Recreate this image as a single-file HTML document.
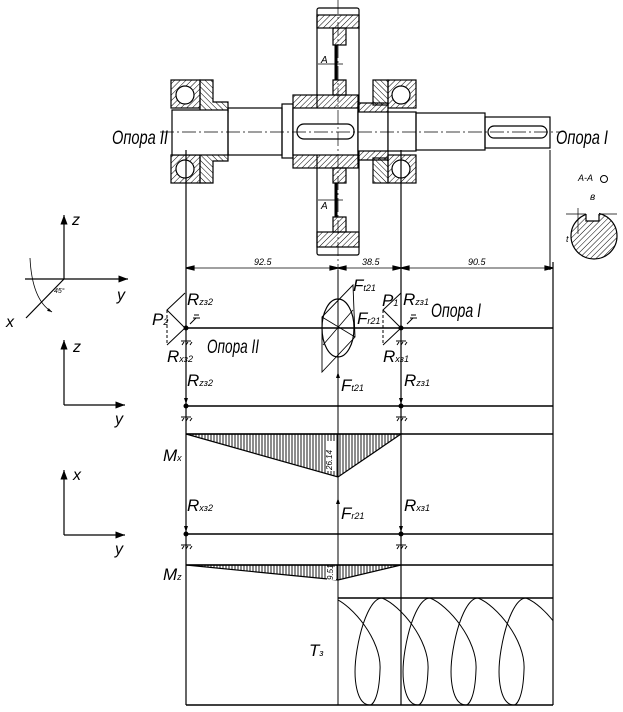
<!DOCTYPE html>
<html><head><meta charset="utf-8"><style>
html,body{margin:0;padding:0;background:#fff}
svg{display:block}
text{font-family:"Liberation Sans Narrow","Liberation Sans",sans-serif;font-style:italic;fill:#000}
</style></head><body>
<svg width="623" height="712" viewBox="0 0 623 712" xmlns="http://www.w3.org/2000/svg">
<defs>
<pattern id="h" width="4" height="4" patternUnits="userSpaceOnUse" patternTransform="rotate(45)"><line x1="0" y1="0" x2="0" y2="4" stroke="#000" stroke-width="1"/></pattern>
<pattern id="h2" width="4" height="4" patternUnits="userSpaceOnUse" patternTransform="rotate(-45)"><line x1="0" y1="0" x2="0" y2="4" stroke="#000" stroke-width="1"/></pattern>
<pattern id="v" width="3" height="3" patternUnits="userSpaceOnUse"><line x1="1" y1="0" x2="1" y2="3" stroke="#000" stroke-width="0.9"/></pattern>
<marker id="ar" markerWidth="8" markerHeight="6" refX="8" refY="3" orient="auto"><path d="M0,0 L8,3 L0,6 z" fill="#000"/></marker>
<marker id="as" markerWidth="6" markerHeight="4" refX="6" refY="2" orient="auto"><path d="M0,0 L6,2 L0,4 z" fill="#000"/></marker>
<clipPath id="tb"><rect x="338" y="598" width="215" height="107"/></clipPath>
</defs>
<g stroke="#000" fill="none" stroke-width="1.2">
<rect x="171" y="80" width="29" height="28" fill="url(#h)"/>
<rect x="171" y="155" width="29" height="28" fill="url(#h)"/>
<circle cx="185" cy="95" r="9" fill="#fff"/><circle cx="185" cy="169" r="9" fill="#fff"/>
<path d="M200,80 h13 v22 h15 v10 h-28 z" fill="url(#h2)"/>
<path d="M200,183 h13 v-22 h15 v-10 h-28 z" fill="url(#h2)"/>
<rect x="172" y="110" width="56" height="45" fill="#fff"/>
<rect x="228" y="108" width="54" height="47"/>
<rect x="282" y="104" width="11" height="54"/>
<rect x="317" y="8" width="42" height="247" rx="2"/>
<rect x="317" y="15" width="42" height="13" fill="url(#h)"/>
<rect x="317" y="232" width="42" height="15" fill="url(#h)"/>
<rect x="333" y="28" width="13" height="17" fill="url(#h)"/>
<rect x="333" y="217" width="13" height="15" fill="url(#h)"/>
<path d="M333,80 h13 v15 h-13 z" fill="url(#h)"/>
<path d="M333,168 h13 v15 h-13 z" fill="url(#h)"/>
<rect x="293" y="95" width="65" height="73" fill="url(#h)"/>
<rect x="293" y="108" width="65" height="47" fill="#fff"/>
<rect x="297" y="124" width="57" height="15" rx="7" fill="#fff"/>
<line x1="336" y1="45" x2="336" y2="80" stroke-width="3"/>
<line x1="336" y1="183" x2="336" y2="217" stroke-width="3"/>
<path d="M318,64 h25 M318,200 h25" stroke-width="0.8"/>
<path d="M358,103 h30 v57 h-30 z" fill="url(#h)"/>
<rect x="358" y="112" width="30" height="39" fill="#fff"/>
<rect x="373" y="80" width="15" height="25" fill="url(#h2)"/>
<rect x="373" y="158" width="15" height="25" fill="url(#h2)"/>
<rect x="388" y="80" width="28" height="28" fill="url(#h)"/>
<rect x="388" y="155" width="28" height="28" fill="url(#h)"/>
<circle cx="401" cy="95" r="9" fill="#fff"/><circle cx="401" cy="169" r="9" fill="#fff"/>
<rect x="388" y="112" width="28" height="39" fill="#fff"/>
<rect x="416" y="113" width="69" height="37"/>
<rect x="485" y="117" width="65" height="31"/>
<rect x="488" y="126" width="59" height="12" rx="6"/>
<path d="M160,132 H560" stroke-width="0.7" stroke-dasharray="14,3,2,3"/>
<path d="M338,0 V270" stroke-width="0.7" stroke-dasharray="14,3,2,3"/>
<!-- section A-A -->
<circle cx="594" cy="236" r="23" fill="url(#h)"/>
<rect x="586" y="209" width="13" height="12" fill="#fff" stroke="none"/>
<path d="M586,214 v7 h13 v-7" />
<path d="M566,214 h20 M599,214 h18 M578,208 v26" stroke-width="0.7"/>
<circle cx="604" cy="179" r="3.5" stroke-width="1"/>
<line x1="186" y1="150" x2="186" y2="705"/>
<line x1="338" y1="270" x2="338" y2="705" stroke-width="1"/>
<line x1="401" y1="150" x2="401" y2="705"/>
<line x1="550" y1="150" x2="550" y2="270" stroke-width="1"/>
<line x1="553" y1="262" x2="553" y2="705"/>
<line x1="186" y1="268" x2="553" y2="268" stroke-width="0.8"/>
<path d="M186,268 l8,-2 v4z M338,268 l-8,-2 v4z M338,268 l8,-2 v4z M401,268 l-8,-2 v4z M401,268 l8,-2 v4z M553,268 l-8,-2 v4z" fill="#000"/>
<line x1="186" y1="328" x2="553" y2="328" stroke-width="1.4"/>
<line x1="186" y1="406" x2="553" y2="406" stroke-width="1.4"/>
<line x1="186" y1="434" x2="553" y2="434" stroke-width="1.4"/>
<line x1="186" y1="534" x2="553" y2="534" stroke-width="1.4"/>
<line x1="186" y1="565" x2="553" y2="565" stroke-width="1.4"/>
<line x1="338" y1="598" x2="553" y2="598" stroke-width="1.4"/>
<line x1="186" y1="705" x2="553" y2="705" stroke-width="1.4"/>
<path d="M185,293 L167,310 L185,328 L167,345" stroke-width="1"/>
<path d="M401,293 L383,310 L401,328 L383,345" stroke-width="1"/>
<path d="M383,310 V345" stroke-dasharray="3,2" stroke-width="1"/>
<path d="M167,310 V345" stroke-dasharray="3,2" stroke-width="1"/>
<ellipse cx="338" cy="328" rx="16" ry="29"/>
<path d="M322,317 L353,285 L355,337 L322,372 Z" stroke-width="0.9"/>
<path d="M322,317 L355,337 M323,345 L353,310 M338,300 V357" stroke-width="0.8"/>
<g stroke-width="1">
<circle cx="186" cy="328" r="2" fill="#000"/><circle cx="401" cy="328" r="2" fill="#000"/>
<circle cx="186" cy="406" r="2" fill="#000"/><circle cx="401" cy="406" r="2" fill="#000"/>
<circle cx="186" cy="534" r="2" fill="#000"/><circle cx="401" cy="534" r="2" fill="#000"/>
<path d="M186,336 v5 M181,341 h10 M182,345 l2,-3 M186,345 l2,-3 M190,345 l2,-3"/>
<path d="M401,336 v5 M396,341 h10 M397,345 l2,-3 M401,345 l2,-3 M405,345 l2,-3"/>
<path d="M186,412 v5 M181,417 h10 M182,421 l2,-3 M186,421 l2,-3 M190,421 l2,-3"/>
<path d="M401,412 v5 M396,417 h10 M397,421 l2,-3 M401,421 l2,-3 M405,421 l2,-3"/>
<path d="M186,540 v5 M181,545 h10 M182,549 l2,-3 M186,549 l2,-3 M190,549 l2,-3"/>
<path d="M401,540 v5 M396,545 h10 M397,549 l2,-3 M401,549 l2,-3 M405,549 l2,-3"/>
<path d="M190,324 l6,-6 M193,318 h7 M194,315 h5 M407,324 l6,-6 M410,318 h7 M411,315 h5"/>
</g>
<path d="M186,434 L338,477 L401,434 Z" fill="url(#v)" stroke-width="1.2"/>
<path d="M186,565 L338,580 L401,565 Z" fill="url(#v)" stroke-width="1.2"/>
<rect x="327" y="441" width="9" height="30" fill="#fff" stroke="none"/>
<rect x="327" y="567" width="9" height="13" fill="#fff" stroke="none"/>
<g clip-path="url(#tb)" stroke-width="1">
<path d="M286,598 C304,605 334,640 332,670 C331,700 324,705 322,705 C309,705 304,680 309,650 C314,620 324,598 334,598
C352,605 382,640 380,670 C379,700 372,705 370,705 C357,705 352,680 357,650 C362,620 372,598 382,598
C400,605 430,640 428,670 C427,700 420,705 418,705 C405,705 400,680 405,650 C410,620 420,598 430,598
C448,605 478,640 476,670 C475,700 468,705 466,705 C453,705 448,680 453,650 C458,620 468,598 478,598
C496,605 526,640 524,670 C523,700 516,705 514,705 C501,705 496,680 501,650 C506,620 516,598 526,598
C544,605 574,640 572,670"/>
</g>
<g stroke-width="1.2">
<path d="M64,279 V215" marker-end="url(#ar)"/><path d="M25,279 H128" marker-end="url(#ar)"/><path d="M64,279 L26,318"/>
<path d="M30,258 Q32,300 52,312" stroke-width="0.8" marker-end="url(#as)"/>
<path d="M64,405 V340" marker-end="url(#ar)"/><path d="M64,405 H125" marker-end="url(#ar)"/>
<path d="M64,535 V470" marker-end="url(#ar)"/><path d="M64,535 H125" marker-end="url(#ar)"/>
</g>
<g stroke-width="1">
<path d="M186,370 V404" marker-end="url(#as)"/><path d="M401,370 V404" marker-end="url(#as)"/>
<path d="M186,495 V532" marker-end="url(#as)"/><path d="M401,495 V532" marker-end="url(#as)"/>
<path d="M338,395 V372" marker-end="url(#as)"/><path d="M338,520 V498" marker-end="url(#as)"/>
</g>
</g>
<g font-size="19">
<text x="112" y="144" textLength="56" lengthAdjust="spacingAndGlyphs">Опора II</text>
<text x="556" y="144" textLength="52" lengthAdjust="spacingAndGlyphs">Опора I</text>
<text x="207" y="353" textLength="52" lengthAdjust="spacingAndGlyphs">Опора II</text>
<text x="431" y="317" textLength="50" lengthAdjust="spacingAndGlyphs">Опора I</text>
</g>
<g font-size="16">
<text x="72" y="225">z</text><text x="117" y="300">y</text><text x="6" y="327">x</text>
<text x="73" y="352">z</text><text x="115" y="424">y</text>
<text x="73" y="480">x</text><text x="115" y="554">y</text>
</g>
<g font-size="17">
<text x="187" y="305">R<tspan font-size="9">zз2</tspan></text>
<text x="152" y="325">P<tspan font-size="9">2</tspan></text>
<text x="167" y="362">R<tspan font-size="9">xз2</tspan></text>
<text x="187" y="386">R<tspan font-size="9">zз2</tspan></text>
<text x="353" y="291">F<tspan font-size="9">t21</tspan></text>
<text x="357" y="324">F<tspan font-size="9">r21</tspan></text>
<text x="341" y="391">F<tspan font-size="9">t21</tspan></text>
<text x="382" y="306">P<tspan font-size="9">1</tspan></text>
<text x="403" y="305">R<tspan font-size="9">zз1</tspan></text>
<text x="383" y="362">R<tspan font-size="9">xз1</tspan></text>
<text x="404" y="386">R<tspan font-size="9">zз1</tspan></text>
<text x="163" y="461">M<tspan font-size="9">x</tspan></text>
<text x="187" y="511">R<tspan font-size="9">xз2</tspan></text>
<text x="341" y="519">F<tspan font-size="9">r21</tspan></text>
<text x="404" y="511">R<tspan font-size="9">xз1</tspan></text>
<text x="163" y="580">M<tspan font-size="9">z</tspan></text>
<text x="309" y="656">T<tspan font-size="9">з</tspan></text>
</g>
<g font-size="9">
<text x="254" y="265">92.5</text><text x="362" y="265">38.5</text><text x="468" y="265">90.5</text>
<text x="332" y="470" transform="rotate(-90 332 470)" font-size="8">26.14</text>
<text x="333" y="580" transform="rotate(-90 333 580)" font-size="8">9.51</text>
<text x="321" y="63" font-size="10">A</text><text x="321" y="209" font-size="10">A</text>
<text x="578" y="181" font-size="9">A-A</text><text x="590" y="200" font-size="10">в</text>
<text x="566" y="242" font-size="9">t</text>
<text x="54" y="293" font-size="7">45°</text>
</g>
</svg>
</body></html>
